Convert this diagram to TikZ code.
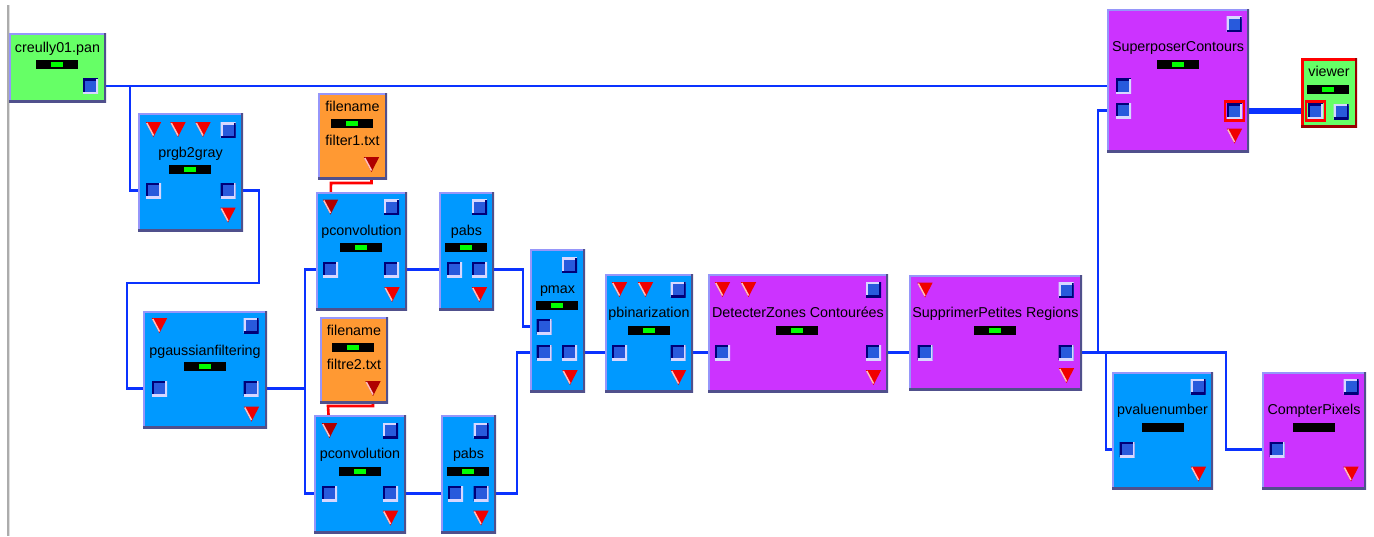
\documentclass[tikz,border=0pt]{standalone}
\usepackage{fontspec}
\setmainfont{Liberation Sans}
\usepackage{xcolor}
\usepackage{tikz}

\definecolor{boxblue}{RGB}{0,153,255}
\definecolor{boxpurple}{RGB}{204,51,255}
\definecolor{boxgreen}{RGB}{102,255,102}
\definecolor{boxorange}{RGB}{255,153,51}
\definecolor{edgelight}{RGB}{150,150,250}
\definecolor{edgedark}{RGB}{80,80,140}
\definecolor{wireblue}{RGB}{10,50,255}
\definecolor{portblue}{RGB}{40,90,220}
\definecolor{portdark}{RGB}{0,0,120}
\definecolor{portlight}{RGB}{215,215,255}
\definecolor{ledgreen}{RGB}{0,255,0}
\definecolor{trired}{RGB}{240,0,0}
\definecolor{tridark}{RGB}{175,0,0}
\definecolor{trilight}{RGB}{255,190,190}

\pgfdeclarelayer{wires}
\pgfsetlayers{wires,main}

\begin{document}
\begin{tikzpicture}[x=1pt, y=-1pt,
    box/.style={rectangle, inner sep=0, outer sep=0,
      path picture={
        \draw[edgelight, line width=4] (path picture bounding box.south west) |- (path picture bounding box.north east);
        \draw[edgedark, line width=4] (path picture bounding box.south west) -| (path picture bounding box.north east);}},
    bluebox/.style={box, fill=boxblue},
    purplebox/.style={box, fill=boxpurple},
    greenbox/.style={box, fill=boxgreen},
    orangebox/.style={box, fill=boxorange},
    viewbox/.style={rectangle, inner sep=0, fill=boxgreen,
      path picture={
        \draw[red, line width=5] (path picture bounding box.south west) |- (path picture bounding box.north east);
        \draw[red!60!black, line width=5] (path picture bounding box.south west) -| (path picture bounding box.north east);}},
    port/.style={rectangle, fill=portblue, minimum size=15, inner sep=0,
      path picture={
        \draw[portdark, line width=4] (path picture bounding box.south west) |- (path picture bounding box.north east);
        \draw[portlight, line width=4] (path picture bounding box.south west) -| (path picture bounding box.north east);}},
    parm/.style={rectangle, fill=portblue, minimum size=15, inner sep=0,
      path picture={
        \draw[portlight, line width=4] (path picture bounding box.south west) |- (path picture bounding box.north east);
        \draw[portdark, line width=4] (path picture bounding box.south west) -| (path picture bounding box.north east);}},
    hotframe/.style={rectangle, draw=red, line width=2.5, minimum size=19, inner sep=0},
    bar/.style={rectangle, fill=black, minimum width=42, minimum height=9, inner sep=0,
      path picture={
        \fill[ledgreen] ([xshift=-6,yshift=-2.5]path picture bounding box.center) rectangle ([xshift=6,yshift=2.5]path picture bounding box.center);}},
    bar off/.style={rectangle, fill=black, minimum width=42, minimum height=9, inner sep=0},
    title/.style={font=\fontsize{14.3}{16}\selectfont, inner sep=0, anchor=base},
    wire/.style={draw=wireblue, line width=2.6},
    redwire/.style={draw=red, line width=2.6},
  ]
\tikzset{tri/.pic={
    \fill[#1] (-7.7,-7.5) -- (7.7,-7.5) -- (0,7.5) -- cycle;
    \draw[trilight, line width=1.5] (-6.7,-6.5) -- (0,6);}}

  \useasboundingbox (0,0) rectangle (1374,536);
  \draw[gray!65, line width=2] (7.5,5) -- (7.5,536);
  \draw[gray!25, line width=1.5] (9.5,5) -- (9.5,536);

  % source image
  \node[greenbox, minimum width=97, minimum height=69] (creully) at (57.5,67.5) {};
  \node[title] (creullyname) at (57.5,52.5) {creully01.pan};
  \node[bar] (creullybar) at (57,64.5) {};
  \node[port] (creullyout) at (90.5,86) {};

  % prgb2gray
  \node[bluebox, minimum width=105, minimum height=118] (gray) at (190.5,172) {};
  \pic at (153.5,129.5) {tri=trired};
  \pic at (178,129.5) {tri=trired};
  \pic at (203,129.5) {tri=trired};
  \node[parm] (graypar) at (228,130) {};
  \node[title] (grayname) at (190.5,157) {prgb2gray};
  \node[bar] (graybar) at (190,169) {};
  \node[port] (grayin) at (153.5,190.5) {};
  \node[port] (grayout) at (228,190.5) {};
  \pic at (228,215) {tri=trired};

  % pgaussianfiltering
  \node[bluebox, minimum width=124, minimum height=117] (gauss) at (205,369.5) {};
  \pic at (159.5,325.5) {tri=trired};
  \node[parm] (gausspar) at (251,325.5) {};
  \node[title] (gaussname) at (205,355) {pgaussianfiltering};
  \node[bar] (gaussbar) at (205,366.5) {};
  \node[port] (gaussin) at (159.5,388.5) {};
  \node[port] (gaussout) at (251,388.5) {};
  \pic at (251.5,414) {tri=trired};

  % filter files
  \node[orangebox, minimum width=69, minimum height=86] (file1) at (352.5,136) {};
  \node[title] (file1name) at (352.5,111) {filename};
  \node[bar] (file1bar) at (352,123.5) {};
  \node[title] (file1val) at (352.5,145.5) {filter1.txt};
  \pic at (371.5,164.5) {tri=tridark};
  \coordinate (file1out) at (371.5,164.5);

  \node[orangebox, minimum width=68, minimum height=86] (file2) at (354,360) {};
  \node[title] (file2name) at (354,335) {filename};
  \node[bar] (file2bar) at (353,347.5) {};
  \node[title] (file2val) at (354,369) {filtre2.txt};
  \pic at (373,388.5) {tri=tridark};
  \coordinate (file2out) at (373,388.5);

  % pconvolution
  \node[bluebox, minimum width=91, minimum height=118] (conv1) at (361.5,251) {};
  \pic at (330.5,207) {tri=tridark};
  \coordinate (conv1par) at (330.5,207);
  \node[parm] (conv1sq) at (391.5,207) {};
  \node[title] (conv1name) at (361.5,235) {pconvolution};
  \node[bar] (conv1bar) at (361,247.5) {};
  \node[port] (conv1in) at (330.5,269.5) {};
  \node[port] (conv1out) at (391.5,269.5) {};
  \pic at (392,294.5) {tri=trired};

  \node[bluebox, minimum width=92, minimum height=118] (conv2) at (360,474) {};
  \pic at (329.5,430.5) {tri=tridark};
  \coordinate (conv2par) at (329.5,430.5);
  \node[parm] (conv2sq) at (390.5,430.5) {};
  \node[title] (conv2name) at (360,458) {pconvolution};
  \node[bar] (conv2bar) at (360,471.5) {};
  \node[port] (conv2in) at (329.5,493.5) {};
  \node[port] (conv2out) at (390.5,493.5) {};
  \pic at (390.5,518) {tri=trired};

  % pabs
  \node[bluebox, minimum width=55, minimum height=118] (pabs1) at (466.5,251) {};
  \node[parm] (pabs1sq) at (479.5,207) {};
  \node[title] (pabs1name) at (466.5,235) {pabs};
  \node[bar] (pabs1bar) at (466,247.5) {};
  \node[port] (pabs1in) at (454.5,269.5) {};
  \node[port] (pabs1out) at (479.5,269.5) {};
  \pic at (479.5,294.5) {tri=trired};

  \node[bluebox, minimum width=55, minimum height=118] (pabs2) at (468.5,474) {};
  \node[parm] (pabs2sq) at (481,430.5) {};
  \node[title] (pabs2name) at (468.5,458) {pabs};
  \node[bar] (pabs2bar) at (467.5,471.5) {};
  \node[port] (pabs2in) at (455.5,493.5) {};
  \node[port] (pabs2out) at (481,493.5) {};
  \pic at (481,518) {tri=trired};

  % pmax
  \node[bluebox, minimum width=55, minimum height=143] (pmax) at (557.5,320.5) {};
  \node[parm] (pmaxsq) at (569.5,265) {};
  \node[title] (pmaxname) at (557.5,293) {pmax};
  \node[bar] (pmaxbar) at (556.5,305) {};
  \node[port] (pmaxin1) at (544,326.5) {};
  \node[port] (pmaxin2) at (544,352.5) {};
  \node[port] (pmaxout) at (569.5,352.5) {};
  \pic at (570,377.5) {tri=trired};

  % pbinarization
  \node[bluebox, minimum width=88, minimum height=118] (pbin) at (649,333) {};
  \pic at (619.5,289.5) {tri=trired};
  \pic at (645.5,289.5) {tri=trired};
  \node[parm] (pbinsq) at (678,289.5) {};
  \node[title] (pbinname) at (649,317) {pbinarization};
  \node[bar] (pbinbar) at (649,330.5) {};
  \node[port] (pbinin) at (619.5,352.5) {};
  \node[port] (pbinout) at (678,352.5) {};
  \pic at (678.5,377.5) {tri=trired};

  % DetecterZones Contourées
  \node[purplebox, minimum width=180, minimum height=118] (det) at (798,333) {};
  \pic at (722.5,289.5) {tri=trired};
  \pic at (748.5,289.5) {tri=trired};
  \node[parm] (detsq) at (873.5,289.5) {};
  \node[title] (detname) at (798,317) {DetecterZones Contourées};
  \node[bar] (detbar) at (797,330.5) {};
  \node[port] (detin) at (722.5,352.5) {};
  \node[port] (detout) at (873.5,352.5) {};
  \pic at (873.5,377.5) {tri=trired};

  % SupprimerPetites Regions
  \node[purplebox, minimum width=173, minimum height=115] (supp) at (995.5,332.5) {};
  \pic at (925,290) {tri=trired};
  \node[parm] (suppsq) at (1066,290) {};
  \node[title] (suppname) at (995.5,317) {SupprimerPetites Regions};
  \node[bar] (suppbar) at (995,330.5) {};
  \node[port] (suppin) at (925,352.5) {};
  \node[port] (suppout) at (1066,352.5) {};
  \pic at (1066.5,375.5) {tri=trired};

  % SuperposerContours
  \node[purplebox, minimum width=142, minimum height=143] (sup) at (1178,80.5) {};
  \node[parm] (supsq) at (1234,24) {};
  \node[title] (supname) at (1178,51.7) {SuperposerContours};
  \node[bar] (supbar) at (1178,64) {};
  \node[port] (supin1) at (1123.5,86) {};
  \node[port] (supin2) at (1123.5,110.5) {};
  \node[port] (supout) at (1234.5,111) {};
  \node[hotframe] (supouthot) at (1234.5,111) {};
  \pic at (1234.5,136) {tri=trired};

  % viewer
  \node[viewbox, minimum width=56, minimum height=69] (view) at (1329,92.5) {};
  \node[title] (viewname) at (1329,76) {viewer};
  \node[bar] (viewbar) at (1328,89) {};
  \node[port] (viewin) at (1315.5,111) {};
  \node[hotframe] (viewinhot) at (1315.5,111) {};
  \node[parm] (viewout) at (1341,111.5) {};

  % pvaluenumber
  \node[bluebox, minimum width=101, minimum height=117] (pval) at (1162.5,430.5) {};
  \node[parm] (pvalsq) at (1198,386.5) {};
  \node[title] (pvalname) at (1162.5,414) {pvaluenumber};
  \node[bar off] (pvalbar) at (1162.5,427.5) {};
  \node[port] (pvalin) at (1127,449.5) {};
  \pic at (1198.5,474) {tri=trired};

  % CompterPixels
  \node[purplebox, minimum width=104, minimum height=117] (compt) at (1314,430.5) {};
  \node[parm] (comptsq) at (1351,386.5) {};
  \node[title] (comptname) at (1314,414) {CompterPixels};
  \node[bar off] (comptbar) at (1314,427.5) {};
  \node[port] (comptin) at (1277,449.5) {};
  \pic at (1351,474) {tri=trired};

  % wire bends
  \coordinate (split1) at (130,86);
  \coordinate (bend1) at (259,283);
  \coordinate (bend2) at (127,388.5);
  \coordinate (split2) at (305,388.5);
  \coordinate (bend3) at (331,183);
  \coordinate (bend6) at (328,406);
  \coordinate (bend4) at (523,269.5);
  \coordinate (bend5) at (517,493.5);
  \coordinate (split3) at (1098,352.5);
  \coordinate (split4) at (1106,352.5);
  \coordinate (bend7) at (1226,352.5);

  \begin{pgfonlayer}{wires}
  \draw[wire] (creullyout) -- (supin1);
  \draw[wire] (split1) |- (grayin);
  \draw[wire] (grayout) -| (bend1) -| (bend2) -- (gaussin);
  \draw[wire] (gaussout) -- (split2) |- (conv1in);
  \draw[wire] (split2) |- (conv2in);
  \draw[redwire] (file1out) |- (bend3) -- (conv1par);
  \draw[redwire] (file2out) |- (bend6) -- (conv2par);
  \draw[wire] (conv1out) -- (pabs1in);
  \draw[wire] (conv2out) -- (pabs2in);
  \draw[wire] (pabs1out) -- (bend4) |- (pmaxin1);
  \draw[wire] (pabs2out) -- (bend5) |- (pmaxin2);
  \draw[wire] (pmaxout) -- (pbinin);
  \draw[wire] (pbinout) -- (detin);
  \draw[wire] (detout) -- (suppin);
  \draw[wire] (suppout) -- (bend7) |- (comptin);
  \draw[wire] (split3) |- (supin2);
  \draw[wire] (split4) |- (pvalin);
  \draw[wire, line width=6.5] (supout) -- (viewin);
  \end{pgfonlayer}

\end{tikzpicture}
\end{document}
